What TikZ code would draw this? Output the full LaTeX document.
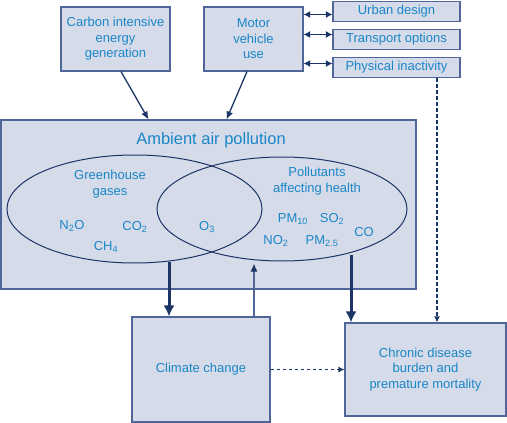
\documentclass[tikz,border=0pt]{standalone}
\usepackage{fontspec}
\setmainfont{Liberation Sans}
\usetikzlibrary{arrows.meta,shapes.geometric}
\definecolor{boxfill}{HTML}{D6DBE9}
\definecolor{boxline}{HTML}{50659A}
\definecolor{navy}{HTML}{1B3566}
\definecolor{txtblue}{HTML}{1A86C8}

\begin{document}
\begin{tikzpicture}[x=1pt,y=-1pt,
    every node/.style={font=\fontsize{13}{15.5}\selectfont, text=txtblue, align=center, inner sep=0pt},
    box/.style={draw=boxline, fill=boxfill, line width=1.1pt},
    oval/.style={ellipse, draw=navy, line width=1pt},
    thinarrow/.style={draw=navy, line width=1.3pt, -{Latex[length=8pt,width=7pt]}},
    twoway/.style={draw=navy, line width=1.5pt, {Latex[length=6.5pt,width=7pt]}-{Latex[length=6.5pt,width=7pt]}},
    thickarrow/.style={draw=navy, line width=3pt, -{Latex[length=11pt,width=11pt]}},
    dasharrow/.style={draw=navy, line width=1.3pt, dash pattern=on 3.5pt off 2.5pt, -{Latex[length=6pt,width=6pt]}}]
    \useasboundingbox (0,0) rectangle (507,423);
    % top boxes
    \node[box, minimum width=109, minimum height=64] (carbon) at (115.5,39) {Carbon intensive\\energy\\generation};
    \node[box, minimum width=99, minimum height=64] (motor) at (253.5,39) {Motor\\vehicle\\use};
    \node[box, minimum width=127, minimum height=20] (urban) at (396.5,11.5) {Urban design};
    \node[box, minimum width=127, minimum height=20] (transport) at (396.5,39.5) {Transport options};
    \node[box, minimum width=127, minimum height=20] (inactivity) at (396.5,67.5) {Physical inactivity};
    \draw[twoway] ([yshift=-3pt]motor.east |- urban) -- ([yshift=-3pt]urban.west);
    \draw[twoway] ([yshift=5pt]motor.east |- transport) -- ([yshift=5pt]transport.west);
    \draw[twoway] ([yshift=4pt]motor.east |- inactivity) -- ([yshift=4pt]inactivity.west);
    % ambient air pollution
    \node[box, minimum width=415, minimum height=169] (ambient) at (208.5,204.5) {};
    \node[font=\fontsize{16.5}{19}\selectfont] (ambtitle) at (211,140) {Ambient air pollution};
    \draw[thinarrow] ([xshift=5.5pt]carbon.south) -- ([xshift=-60pt]ambient.north);
    \draw[thinarrow] ([xshift=-6.5pt]motor.south) -- ([xshift=18pt]ambient.north);
    \node[oval, minimum width=255, minimum height=108] (ghg) at (134.5,209) {};
    \node[oval, minimum width=250, minimum height=104] (health) at (282,209) {};
    \node (ghglabel) at (110,184) {Greenhouse\\gases};
    \node (hlthlabel) at (317,181) {Pollutants\\affecting health};
    \node (no) at (72,226) {N\textsubscript{2}O};
    \node (co2) at (135,227) {CO\textsubscript{2}};
    \node (ch4) at (106,247) {CH\textsubscript{4}};
    \node (o3) at (207,227) {O\textsubscript{3}};
    \node (pm10) at (293,219) {PM\textsubscript{10}};
    \node (so2) at (332,219) {SO\textsubscript{2}};
    \node (no2) at (276,241) {NO\textsubscript{2}};
    \node (pm25) at (322,241) {PM\textsubscript{2.5}};
    \node (co) at (364,232) {CO};
    % outcomes
    \node[box, minimum width=138, minimum height=105] (climate) at (201,369.5) {Climate change};
    \node[box, minimum width=161, minimum height=93] (chronic) at (425.5,369.5) {Chronic disease\\burden and\\premature mortality};
    \draw[thickarrow] ([xshift=34.5pt,yshift=2pt]ghg.south) coordinate (g1) -- (g1 |- climate.north);
    \draw[thickarrow] ([xshift=69pt,yshift=7pt]health.south) coordinate (h1) -- (h1 |- chronic.north);
    \draw[draw=boxline, line width=1.3pt, -{Latex[length=8pt,width=7pt,color=navy]}] ([xshift=53pt]climate.north) -- ([xshift=-28pt,yshift=-2pt]health.south);
    \draw[dasharrow] (climate.east) -- (chronic.west);
    \draw[dasharrow] ([xshift=40.5pt]inactivity.south) coordinate (p1) -- (p1 |- chronic.north);
\end{tikzpicture}
\end{document}
